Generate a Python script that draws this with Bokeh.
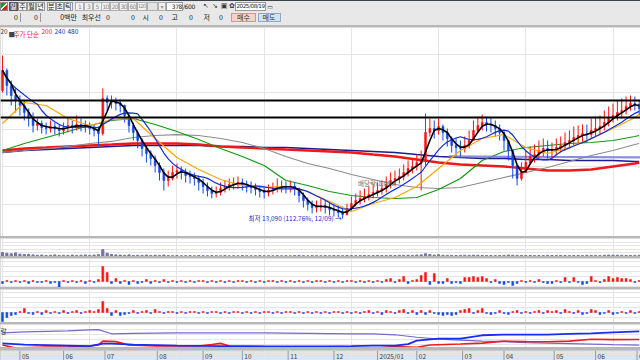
import numpy as np
import pandas as pd
from bokeh.plotting import figure
from bokeh.layouts import column
from bokeh.models import Range1d, Span, Label, Div, ColumnDataSource
from bokeh.embed import file_html
from bokeh.resources import INLINE
from bokeh.core.properties import value

W = 640
FONT = "Noto Sans CJK KR"

# ---------------- data (2-session candles, KRW) ----------------
first_open = 30240
close = [
    32920, 30910, 29570, 28900, 28230, 27290, 26490, 25550, 25820, 25280,
    25150, 25420, 25150, 24880, 25280, 25550, 25280, 25680, 25550, 25420,
    25150, 24880, 24480, 29170, 28630, 28900, 28500, 28230, 26890, 25550,
    24610, 23540, 22470, 21800, 21130, 20190, 19250, 18180, 18450, 19250,
    19520, 19250, 18850, 18720, 18450, 17910, 17380, 16840, 16440, 16570,
    17110, 17380, 17640, 17780, 17910, 17640, 17380, 17240, 16970, 16710,
    16570, 16840, 17110, 17380, 17380, 17240, 17380, 17110, 16170, 15500,
    14960, 14560, 14700, 14830, 14560, 14290, 14160, 13890, 13620, 14430,
    15100, 15500, 15770, 16040, 16300, 16570, 16840, 17110, 17640, 18180,
    18450, 18720, 19250, 19790, 20060, 20590, 20860, 24610, 25150, 24880,
    25420, 24610, 23810, 22870, 22600, 22470, 22870, 23540, 24880, 25550,
    25950, 25680, 25550, 25150, 24610, 23540, 22200, 20190, 18450, 19250,
    20590, 21400, 21660, 22200, 22470, 22200, 22200, 22600, 22870, 23270,
    23540, 23940, 24210, 24480, 24340, 24880, 25150, 25420, 25950, 26490,
    26890, 27290, 27560, 28100, 28500, 28360, 27830]
high = [
    34930, 33190, 31580, 30510, 29570, 28900, 27830, 27290, 26490, 26220,
    25950, 26220, 25950, 25680, 25950, 26490, 26220, 26890, 26490, 26220,
    25950, 25680, 25420, 30510, 29570, 29570, 29300, 29030, 28360, 26890,
    25950, 24880, 23810, 22870, 22200, 21530, 20590, 19790, 19520, 20190,
    20460, 20060, 19790, 19520, 19250, 18850, 18450, 17910, 17380, 17380,
    17910, 18180, 18450, 18580, 18720, 18450, 18180, 18050, 17780, 17510,
    17380, 17640, 17910, 18450, 18180, 18050, 18180, 17910, 17240, 16570,
    15900, 15500, 15500, 15770, 15500, 15230, 15100, 14830, 14700, 15100,
    16040, 16440, 16840, 17110, 17380, 17640, 17910, 18180, 18720, 19250,
    19520, 19790, 20320, 20860, 21130, 21660, 22200, 27160, 26490, 26220,
    26490, 25680, 25150, 24080, 23810, 23540, 24080, 24880, 26220, 26760,
    27020, 26760, 26620, 26220, 25680, 24880, 23540, 21930, 20190, 20590,
    22200, 22740, 23000, 23540, 23810, 23540, 23270, 23810, 24080, 24610,
    24880, 25420, 25550, 25680, 25680, 26490, 26760, 26890, 27560, 28100,
    28500, 28900, 29170, 29440, 29570, 29440, 28900]
low = [
    29970, 29570, 28230, 27290, 26890, 26220, 25420, 24610, 24880, 24480,
    24340, 24610, 24340, 24080, 24340, 24610, 24480, 24880, 24750, 24610,
    24340, 24080, 22870, 24210, 27560, 27830, 27560, 27290, 25950, 24610,
    23540, 22470, 21400, 20590, 20190, 19250, 18180, 16840, 17380, 18180,
    18450, 18310, 17910, 17780, 17510, 16840, 16440, 16040, 15770, 15900,
    16170, 16570, 16840, 16970, 17110, 16840, 16570, 16440, 16170, 15900,
    15770, 16040, 16300, 16570, 16570, 16440, 16570, 16170, 15230, 14560,
    14160, 13760, 13890, 14030, 13760, 13490, 13360, 13220, 13090, 13490,
    14160, 14700, 14960, 15230, 15500, 15770, 16040, 16300, 16570, 17110,
    17510, 17780, 18180, 18720, 19120, 19520, 16840, 20190, 24080, 23810,
    24340, 23540, 22740, 21930, 21530, 21400, 21930, 22470, 23810, 24610,
    24880, 24750, 24610, 24080, 23540, 22200, 20860, 18450, 17510, 18180,
    19520, 20320, 20590, 21130, 21400, 21130, 21130, 21530, 21930, 22200,
    22470, 22870, 23140, 23270, 23270, 23810, 24080, 24340, 24880, 25420,
    25950, 26220, 26490, 27020, 27560, 27560, 26890]
volume = [
    220, 180, 150, 200, 130, 110, 120, 90, 70, 80,
    60, 70, 90, 60, 70, 60, 80, 60, 70, 90,
    60, 80, 100, 380, 180, 110, 90, 80, 70, 90,
    60, 70, 60, 80, 60, 70, 60, 80, 50, 45,
    50, 40, 45, 50, 40, 55, 45, 40, 50, 45,
    40, 50, 40, 45, 40, 50, 45, 40, 45, 50,
    40, 45, 40, 50, 40, 45, 40, 55, 60, 45,
    40, 50, 45, 40, 50, 45, 55, 50, 45, 60,
    50, 45, 50, 55, 45, 50, 60, 55, 50, 60,
    55, 65, 60, 70, 60, 80, 90, 150, 110, 80,
    100, 70, 60, 60, 55, 60, 70, 65, 75, 70,
    60, 55, 60, 50, 55, 60, 80, 70, 65, 60,
    55, 60, 50, 55, 50, 60, 55, 50, 60, 55,
    50, 55, 60, 50, 65, 55, 60, 50, 70, 80,
    75, 70, 65, 60, 55, 60, 65]
net_a = [
    -2, 1, -1, 1, -1, 1, -2, 1, -1, -1,
    1, -2, -1, -6, 1, -1, 1, -1, 1, -2,
    1, -1, 2, 15, 9, -2, 3, -2, 1, -3,
    1, -2, -1, 2, -2, 1, -1, 2, -1, 1,
    -1, 1, -1, 1, -1, 1, 1, -1, 1, -1,
    1, -1, 1, -1, 1, 1, -1, 1, -1, 1,
    -1, 1, 1, -1, 1, -1, 1, -1, 1, -1,
    1, -1, 1, 1, -1, 1, -1, 1, -1, 1,
    1, -1, 1, -1, 1, -1, 1, -1, 2, 3,
    -1, 2, 5, -2, 1, 2, 6, 9, -3, 8,
    -2, -2, 3, -2, -1, -2, 4, 4, 5, 4,
    5, 3, -1, 2, -2, -3, -1, -4, -2, 1,
    -1, 1, -1, 2, -1, -2, -2, 1, -1, 4,
    -1, 4, -1, -3, -2, 5, 1, -1, 2, 5,
    3, 4, 3, 3, 2, -1, 1]
net_b = [
    -9, -5, -3, -2, 1, 4, -1, -2, 1, -2,
    2, -1, 1, -1, 2, -1, 1, 2, -1, 1,
    2, 1, 3, 11, 4, -3, 2, -3, -2, -1,
    2, -1, 1, 2, -1, 3, 1, -1, 1, 1,
    -1, 1, -1, 1, 1, -1, 1, -1, 1, 1,
    -1, 1, -1, 1, 1, -1, 1, -1, 1, -1,
    1, 1, -1, 1, -1, 1, 1, -1, 1, -1,
    1, -1, 1, -1, 1, -1, 1, 1, -1, 1,
    -1, 1, -1, 1, 2, -1, 1, -2, 2, 1,
    -1, 2, 3, -1, 2, -2, 2, -2, 2, -1,
    -2, -3, -2, -3, -2, 2, 3, 4, -1, 2,
    4, -1, -2, -1, 2, -1, -2, 1, 2, -1,
    1, -1, 1, 2, -1, 2, 1, 2, -1, 3,
    1, -1, 2, -2, -1, 3, 2, -2, -1, 2,
    -2, -1, 1, -1, 2, -1, 1]

ma_k = [0, 5, 10, 15, 20, 25, 30, 35, 40, 45, 50, 55, 60, 65, 70, 75, 80, 85, 90, 95,
        100, 105, 110, 115, 120, 125, 130, 135, 140, 145, 146]
ma60 = [25820, 28630, 28230, 26490, 25550, 26350, 26490, 23810, 21260, 19650, 18310, 17510,
        17240, 17380, 16710, 15370, 14030, 15100, 15900, 17380, 19790, 22200, 23810, 24340,
        22600, 21800, 22600, 23810, 25150, 26620, 27020]
ma120 = [22200, 23140, 23940, 24750, 25550, 26220, 26490, 25680, 24750, 23670, 22470, 21400,
         20190, 18180, 17510, 16710, 16170, 15900, 15770, 15900, 16970, 18450, 20860, 22070,
         22600, 22870, 23140, 23270, 23540, 24080, 24210]
ma240 = [21930, 22200, 22470, 22740, 23140, 23410, 23940, 24210, 24340, 24210, 23810, 23270,
         22470, 21400, 20460, 19790, 18980, 18310, 17640, 17240, 17110, 17240, 17910, 18580,
         19250, 19920, 20730, 21530, 22200, 23000, 23140]
ma200 = [22200, 22470, 22600, 22740, 22870, 23000, 23140, 23140, 23140, 23000, 22740, 22600,
         22470, 22330, 22200, 22070, 21930, 21660, 21400, 21000, 20590, 20320, 20190, 20060,
         19790, 19520, 19520, 19650, 20060, 20460, 20590]
ma480 = [21930, 22200, 22330, 22470, 22600, 22740, 22870, 22870, 22870, 22870, 22740, 22740,
         22600, 22600, 22470, 22330, 22200, 22070, 21930, 21660, 21400, 21260, 21130, 21130,
         21000, 21000, 20860, 20860, 20860, 20730, 20730]
trend_k = [102.3, 146.3]
trend_p = [21400, 21270]
band_hi, band_lo = 28900, 26620
low_k, low_p = 78, 13090

# lower pane lines
pur_k = [0, 5, 10, 15, 20, 22, 25, 30, 40, 50, 60, 70, 80, 85, 90, 95, 100, 105, 110, 115,
         120, 125, 130, 135, 140, 146]
pur_v = [16.5, 17.5, 18, 18.5, 19.5, 19.7, 15.5, 16, 16.5, 16.5, 16.5, 16, 15.5, 15.5, 14.5,
         12, 10, 9, 8, 7.5, 6.5, 6, 5.5, 5, 4.5, 4]
blu_k = [0, 5, 10, 15, 20, 23, 25, 30, 40, 50, 60, 70, 80, 85, 90, 93, 95, 100, 105, 110, 115,
         120, 125, 130, 135, 140, 146]
blu_v = [5.7, 4.5, 4, 3.5, 3, 5.5, 5.5, 4.5, 3.5, 3, 2.5, 2.5, 3, 3.5, 3.5, 5, 8.5, 10.5, 10.5,
         14, 14.7, 14.7, 14.7, 15.5, 16, 17, 18]
red_k = [0, 3, 10, 15, 20, 22, 23, 26, 29, 35, 45, 48, 50, 52, 60, 70, 78, 83, 85, 90, 95, 98,
         105, 110, 115, 120, 125, 130, 135, 140, 146]
red_v = [4, 1, 2, 2.3, 3, 4, 8, 7.5, 4, 3, 3, 4.5, 5.7, 3, 2.5, 2, 2.5, 1, 0.7, 2.5, 1.7, 4,
         5, 6, 8, 7.5, 7.3, 8, 10, 9.5, 9.7]

month_pos = [4, 14, 23.5, 35.5, 46, 55, 65.5, 76, 86, 95, 105.5, 115, 126.5, 136, 145.5]
month_lbl = ["05", "06", "07", "08", "09", "10", "11", "12", "2025/01", "02", "03", "04",
             "05", "06", "07"]

# ---------------- toolbar (HTML) ----------------
def cell(x, y, w, h, txt="", bg="#f3f3f3", fg="#222", bd="#9a9a9a", fs=7, align="center",
         font=FONT, ls=0):
    border = f"border:1px solid {bd};" if bd else ""
    lh = h - (2 if bd else 0)
    return (f'<div style="position:absolute;left:{x}px;top:{y}px;width:{w}px;height:{h}px;'
            f'box-sizing:border-box;{border}background:{bg};color:{fg};font-family:\'{font}\';'
            f'font-size:{fs}px;line-height:{lh}px;text-align:{align};white-space:nowrap;'
            f'letter-spacing:{ls}px;overflow:hidden;padding:0;">{txt}</div>')

parts = []
parts.append(cell(0, 1, 8, 9, "", bg="linear-gradient(135deg,#1a9a2a 0 45%,#ffffff 45% 55%,#e02020 55%)", bd="#888"))
parts.append(cell(9, 1, 9, 9, "일", bg="#6c6c6c", fg="#fff", bd="#555"))
for x, t in [(18, "주"), (27, "월"), (36, "년")]:
    parts.append(cell(x, 1, 9, 9, t))
for x, t in [(47, "분"), (55.5, "초"), (64, "틱")]:
    parts.append(cell(x, 1, 8.5, 9, t))
for x, t, f in [(75, "1", 6), (84, "3", 6), (92.5, "5", 6), (101, "10", 6), (110, "20", 6),
                (119, "30", 6), (128, "60", 6), (137, "120", 5)]:
    parts.append(cell(x, 1, 9.5 if t == "120" else 9, 9, t, bg="#f1f1f1", fg="#8a8a8a",
                      bd="#b0b0b0", fs=f, font="DejaVu Sans", ls=-0.7))
parts.append(cell(147, 1, 11, 9, "", bg="#e2e2e2", bd="#b0b0b0"))
parts.append(cell(158, 1, 8, 9, "▾", bg="#f0f0f0", fg="#999", bd="#b0b0b0", font="DejaVu Sans", fs=6))
parts.append(cell(166, 1, 17, 9, "378", bg="#ffffff", bd="#9a9a9a", align="right", fs=6,
                  font="DejaVu Sans", ls=-0.4))
parts.append(cell(183, 1, 18, 9, "/600", bg="transparent", bd=None, align="left", fs=6,
                  font="DejaVu Sans", ls=-0.4))
for x, t in [(202, "↖"), (211, "↘"), (220, "▣"), (228, "✿")]:
    parts.append(cell(x, 1, 8, 9, t, bg="transparent", fg="#333", bd=None, font="DejaVu Sans", fs=7))
parts.append(cell(235, 1, 31, 9, "2025/08/19", bg="#ffffff", bd="#9a9a9a", fs=5.6,
                  font="DejaVu Sans", ls=-0.4))
parts.append(cell(266.5, 1, 7, 9, "▭", bg="transparent", fg="#333", bd=None, font="DejaVu Sans", fs=6))
for x, w, t in [(8, 10, "0"), (28, 10, "0"), (54, 23, "0백만"), (79, 22, "최우선"), (100, 10, "0"),
                (125, 10, "0"), (141, 8, "시"), (155, 8, "0"), (170, 8, "고"), (185, 8, "0"),
                (202, 8, "저"), (215, 8, "0")]:
    parts.append(cell(x, 12, w, 9, t, bg="transparent", fg="#222", bd=None, align="right"))
parts.append('<div style="position:absolute;left:20px;top:12px;width:1px;height:9px;background:#999"></div>')
parts.append('<div style="position:absolute;left:40px;top:12px;width:1px;height:9px;background:#999"></div>')
parts.append(cell(231, 12, 25, 9, "매수", bg="#f7d2ca", fg="#333", bd="#c89a94"))
parts.append(cell(257.5, 12, 23, 9, "매도", bg="#d0e4f7", fg="#333", bd="#8fa8c6"))
html = ('<div style="position:relative;width:640px;height:25px;background:#e8e8e8;'
        'border-top:1px solid #3c434a;box-sizing:border-box;overflow:hidden;">'
        + "".join(parts) + "</div>")
toolbar = Div(text=html, width=W, height=25, margin=0)

# ---------------- figures ----------------
xr = Range1d(-0.46, 146.3)

def mk(h, y0, y1, bg="white"):
    p = figure(width=W, height=h, x_range=xr, y_range=Range1d(y0, y1), output_backend="svg",
               toolbar_location=None, min_border=0, x_axis_location=None,
               y_axis_location=None, outline_line_color=None, background_fill_color=bg,
               border_fill_color=bg)
    return p

k = np.arange(len(close))
o = np.array([first_open] + close[:-1], dtype=float)
c = np.array(close, dtype=float)
hi = np.array(high, dtype=float)
lo = np.array(low, dtype=float)
top = np.maximum(o, c)
bot = np.minimum(o, c)
cols = ["#ff1010" if cc >= oo else "#1448e8" for oo, cc in zip(o, c)]
src = ColumnDataSource(dict(x=k, top=top, bot=bot, whi=np.maximum(hi, top),
                            wlo=np.minimum(lo, bot), col=cols))

pp = mk(209, 10676, 38682)
pp.line(ma_k, ma480, line_color="#1c1c8c", line_width=1.6)
pp.line(ma_k, ma200, line_color="#f01818", line_width=2.4)
pp.line(ma_k, ma240, line_color="#8c8c8c", line_width=1.2)
pp.line(ma_k, ma120, line_color="#119911", line_width=1.2)
pp.line(trend_k, trend_p, line_color="#6f6fd8", line_width=2.2, line_alpha=0.8)
pp.segment('x', 'wlo', 'x', 'whi', source=src, line_color='col', line_width=1)
pp.vbar(x='x', width=0.42, top='top', bottom='bot', source=src, fill_color='col',
        line_color='col', line_width=0.6)
pp.line(ma_k, ma60, line_color="#ffa500", line_width=1.2)
pp.line(k, pd.Series(close).rolling(9, min_periods=1).mean(), line_color="#1030d8", line_width=1.2)
pp.line(k, pd.Series(close).rolling(3, min_periods=1).mean(), line_color="#000000", line_width=1.6)
for lvl in (band_hi, band_lo):
    pp.add_layout(Span(location=lvl, dimension="width", line_color="#000000", line_width=2))
pp.add_layout(Label(x=low_k, y=low_p, x_offset=-1, text="최저 13,090 (112.76%, 12/09) →",
                    text_align="right", text_baseline="middle", text_color="#2a2ac8",
                    text_font=FONT, text_font_size="6.5px"))
pp.add_layout(Label(x=81.5, y=17780, text="배당락(1,000)", text_align="left",
                    text_baseline="middle", text_color="#6a6a6a", text_font=FONT,
                    text_font_size="6.5px"))
for x, t, colr in [(0, "20", "#333333"), (8, "■", "#444444"), (13, "주가 단순", "#ee1111"),
                   (41, "200", "#ee1111"), (54, "240", "#2233cc"), (67, "480", "#1a1a88")]:
    pp.add_layout(Label(x=x, y=208, x_units="screen", y_units="screen", text=t,
                        text_align="left", text_baseline="top", text_color=colr,
                        text_font=FONT, text_font_size="6.5px"))

pv = mk(18, 0, 1000)
pv.vbar(x=k, top=volume, width=0.5, color="#7474a4")

def netpane(h, y0, y1, vals):
    p = mk(h, y0, y1)
    cl = ["#ff1010" if v >= 0 else "#1448e8" for v in vals]
    p.vbar(x=k, top=vals, bottom=0, width=0.45, fill_color=cl, line_color=cl, line_width=0.5)
    return p

p3 = netpane(29, -6, 23, net_a)
p4 = netpane(33, -10, 23, net_b)

p5 = mk(23, 1.5, 25)
p5.line(pur_k, pur_v, line_color="#7866d2", line_width=1.2)
p5.line(red_k, red_v, line_color="#f01c1c", line_width=1.6)
p5.line(blu_k, blu_v, line_color="#1a2cf0", line_width=1.8)
p5.add_layout(Label(x=0, y=22, x_units="screen", y_units="screen", text="량",
                    text_baseline="top", text_color="#333333", text_font=FONT,
                    text_font_size="6.5px"))

pa = mk(11, 0, 1, bg="#d9e4f0")
pa.segment(x0=month_pos, y0=[0] * len(month_pos), x1=month_pos, y1=[1] * len(month_pos),
           line_color="#8d9cb0", line_width=1)
pa.text(x=month_pos, y=[0.5] * len(month_pos), text=month_lbl, x_offset=2,
        text_baseline="middle", text_align="left", text_color="#404040",
        text_font=value(FONT), text_font_size=value("6.5px"))

layout = column(toolbar, pp, pv, p3, p4, p5, pa, spacing=2,
                styles={"background-color": "#b8b8b8"})

open("out.html", "w").write(file_html(layout, INLINE))
